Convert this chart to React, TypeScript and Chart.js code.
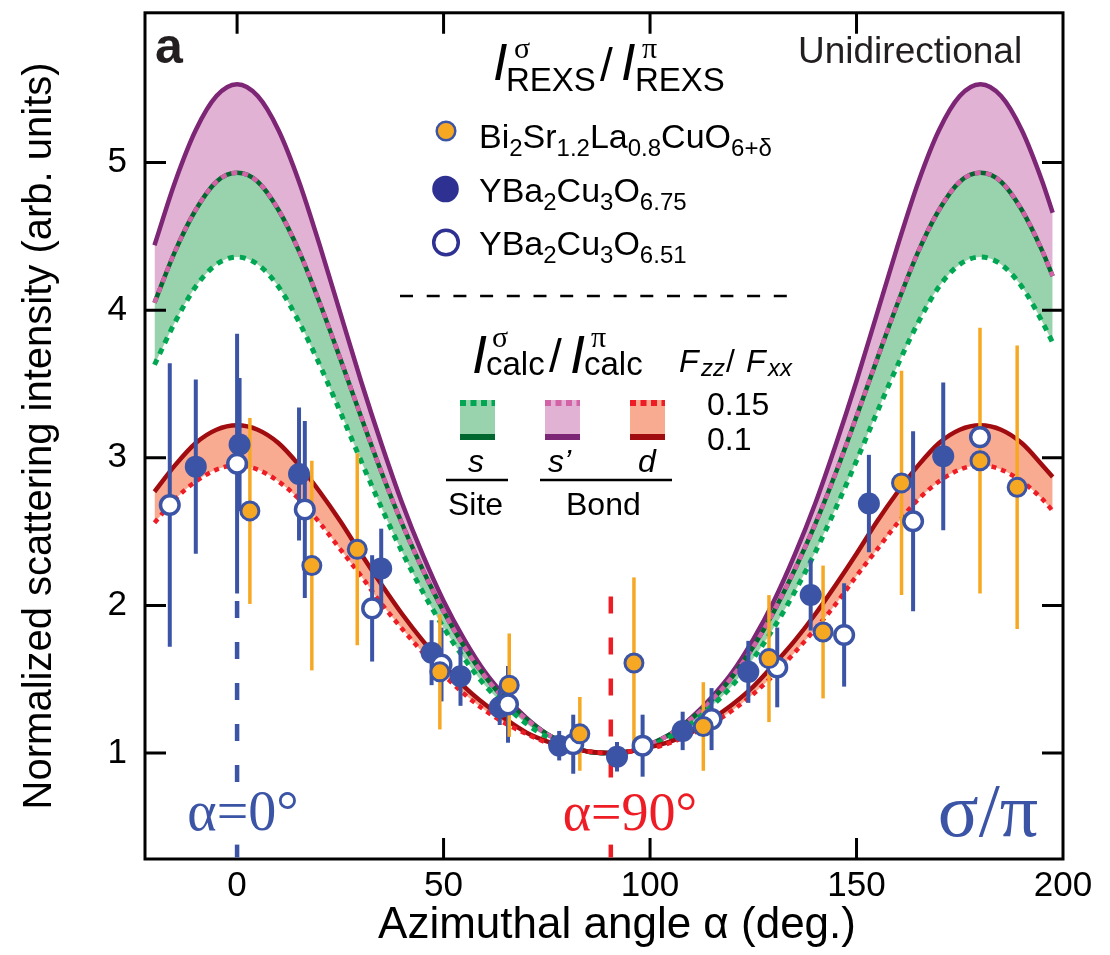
import React, { useEffect, useRef } from "react";
import { Chart, registerables } from "chart.js";

Chart.register(...registerables);

// ---------------- data ----------------
const curveAngles = [
  -20, -15, -10, -5, 0, 5, 10, 15, 20, 25, 30, 35, 40, 45, 50, 55, 60, 65, 70, 75, 80, 85, 90,
  95, 100, 105, 110, 115, 120, 125, 130, 135, 140, 145, 150, 155, 160, 165, 170, 175, 180,
  185, 190, 195, 197.5,
];
// bond s' , Fzz/Fxx = 0.1 (solid purple)
const bondSp010 = [
  4.44, 4.87, 5.22, 5.45, 5.53, 5.45, 5.22, 4.87, 4.44, 3.98, 3.52, 3.09, 2.69, 2.34, 2.03, 1.77, 1.55, 1.38, 1.24, 1.13, 1.06, 1.01, 1.0,
  1.01, 1.06, 1.13, 1.24, 1.38, 1.55, 1.77, 2.03, 2.34, 2.69, 3.09, 3.52, 3.98, 4.44, 4.87, 5.22, 5.45, 5.53,
  5.45, 5.22, 4.87, 4.66,
];
// bond s' , Fzz/Fxx = 0.15 (dotted pink)
const bondSp015 = [
  4.05, 4.4, 4.68, 4.87, 4.93, 4.87, 4.68, 4.4, 4.05, 3.67, 3.28, 2.9, 2.55, 2.24, 1.96, 1.72, 1.52, 1.36, 1.23, 1.13, 1.06, 1.01, 1.0,
  1.01, 1.06, 1.13, 1.23, 1.36, 1.52, 1.72, 1.96, 2.24, 2.55, 2.9, 3.28, 3.67, 4.05, 4.4, 4.68, 4.87, 4.93,
  4.87, 4.68, 4.4, 4.23,
];
// site s , Fzz/Fxx = 0.1 (solid dark green)
const siteS010 = [
  4.05, 4.4, 4.68, 4.87, 4.93, 4.87, 4.68, 4.4, 4.05, 3.67, 3.28, 2.9, 2.55, 2.24, 1.96, 1.72, 1.52, 1.36, 1.23, 1.13, 1.06, 1.01, 1.0,
  1.01, 1.06, 1.13, 1.23, 1.36, 1.52, 1.72, 1.96, 2.24, 2.55, 2.9, 3.28, 3.67, 4.05, 4.4, 4.68, 4.87, 4.93,
  4.87, 4.68, 4.4, 4.23,
];
// site s , Fzz/Fxx = 0.15 (dotted green)
const siteS015 = [
  3.63, 3.92, 4.16, 4.31, 4.36, 4.31, 4.16, 3.92, 3.63, 3.31, 2.98, 2.66, 2.36, 2.09, 1.85, 1.64, 1.46, 1.32, 1.2, 1.11, 1.05, 1.01, 1.0,
  1.01, 1.05, 1.11, 1.2, 1.32, 1.46, 1.64, 1.85, 2.09, 2.36, 2.66, 2.98, 3.31, 3.63, 3.92, 4.16, 4.31, 4.36,
  4.31, 4.16, 3.92, 3.78,
];
// bond d , Fzz/Fxx = 0.1 (solid dark red)
const bondD010 = [
  2.77, 2.95, 3.1, 3.19, 3.22, 3.19, 3.1, 2.95, 2.77, 2.57, 2.35, 2.14, 1.94, 1.76, 1.6, 1.45, 1.33, 1.23, 1.14, 1.08, 1.04, 1.01, 1.0,
  1.01, 1.04, 1.08, 1.14, 1.23, 1.33, 1.45, 1.6, 1.76, 1.94, 2.14, 2.35, 2.57, 2.77, 2.95, 3.1, 3.19, 3.22,
  3.19, 3.1, 2.95, 2.87,
];
// bond d , Fzz/Fxx = 0.15 (dotted red)
const bondD015 = [
  2.56, 2.72, 2.84, 2.92, 2.95, 2.92, 2.84, 2.72, 2.56, 2.38, 2.2, 2.01, 1.84, 1.68, 1.53, 1.4, 1.29, 1.2, 1.13, 1.07, 1.03, 1.01, 1.0,
  1.01, 1.03, 1.07, 1.13, 1.2, 1.29, 1.4, 1.53, 1.68, 1.84, 2.01, 2.2, 2.38, 2.56, 2.72, 2.84, 2.92, 2.95,
  2.92, 2.84, 2.72, 2.64,
];

// Bi2Sr1.2La0.8CuO6+d (orange)
const bsloAngle = [3.1, 18.1, 29.1, 49.1, 65.9, 83.0, 96.1, 112.9, 128.8, 141.9, 160.9, 179.9, 188.9];
const bsloValue = [2.64, 2.27, 2.38, 1.55, 1.46, 1.13, 1.61, 1.18, 1.64, 1.82, 2.83, 2.98, 2.8];
const bsloError = [0.63, 0.71, 0.65, 0.39, 0.35, 0.25, 0.58, 0.3, 0.43, 0.45, 0.76, 0.9, 0.96];

// YBa2Cu3O6.75 (filled blue)
const ybco675Angle = [-10.0, 0.6, 15.0, 34.9, 47.1, 54.1, 63.6, 78.0, 92.0, 107.9, 123.8, 138.9, 153.0, 171.0];
const ybco675Value = [2.94, 3.09, 2.89, 2.25, 1.68, 1.52, 1.31, 1.05, 0.975, 1.15, 1.55, 2.07, 2.69, 3.01];
const ybco675Error = [0.59, 0.45, 0.45, 0.27, 0.22, 0.2, 0.12, 0.1, 0.1, 0.13, 0.21, 0.24, 0.33, 0.5];

// YBa2Cu3O6.51 (open blue)
const ybco651Angle = [-16.3, 0.0, 16.4, 32.7, 49.5, 65.6, 81.4, 98.2, 114.9, 130.8, 147.0, 163.7, 179.9];
const ybco651Value = [2.68, 2.96, 2.65, 1.98, 1.6, 1.33, 1.06, 1.05, 1.23, 1.58, 1.8, 2.57, 3.14];
const ybco651Error = [0.96, 0.88, 0.6, 0.36, 0.25, 0.26, 0.2, 0.21, 0.21, 0.27, 0.35, 0.61, 0.0];

const xTicks = [0, 50, 100, 150, 200];
const yTicks = [1, 2, 3, 4, 5];
const markerLines = [0, 90.5];
const xTitle = "Azimuthal angle α (deg.)";
const yTitle = "Normalized scattering intensity (arb. units)";

// ---------------- styles ----------------
const SANS = '"Liberation Sans", Arial, Helvetica, sans-serif';
const SERIF = '"Liberation Serif", "Times New Roman", serif';
const BLUE = "#3b54a5";
const NAVY = "#2e3192";
const ORANGE = "#f7a823";
const PURPLE = "#7d2676";
const PINK = "#d462a6";
const PINK_FILL = "#e2b2d4";
const DKGREEN = "#00672f";
const GREEN = "#00a651";
const GREEN_FILL = "#99d3ae";
const DKRED = "#a10c11";
const RED = "#ee1c25";
const RED_FILL = "#f9ab91";
const TXT = "#231f20";

const pts = (xs: number[], ys: number[]) => xs.map((x, i) => ({ x, y: ys[i] }));

function curve(label: string, ys: number[], color: string, width: number, dash: number[], order: number, fill: any) {
  return {
    label,
    data: pts(curveAngles, ys),
    borderColor: color,
    borderWidth: width,
    borderDash: dash,
    borderCapStyle: "butt",
    pointRadius: 0,
    cubicInterpolationMode: "monotone",
    backgroundColor: "rgba(0,0,0,0)",
    fill,
    order,
  };
}

type Part = [string, number, number, string];
function drawParts(ctx: CanvasRenderingContext2D, parts: Part[], color: string) {
  ctx.fillStyle = color;
  ctx.textAlign = "left";
  ctx.textBaseline = "alphabetic";
  for (const [t, x, y, f] of parts) {
    ctx.font = f;
    ctx.fillText(t, x, y);
  }
}
function drawChem(ctx: CanvasRenderingContext2D, segs: [string, boolean][], x: number, y: number, color: string) {
  ctx.fillStyle = color;
  ctx.textAlign = "left";
  ctx.textBaseline = "alphabetic";
  let cx = x;
  for (const [t, sub] of segs) {
    ctx.font = sub ? `24px ${SANS}` : `34px ${SANS}`;
    ctx.fillText(t, cx, y + (sub ? 8 : 0));
    cx += ctx.measureText(t).width;
  }
}

const errorBarPlugin = {
  id: "errorBars",
  beforeDatasetDraw(chart: any, args: any) {
    const d0 = chart.data.datasets[args.index];
    if (!d0.firstMarkers) return;
    const { ctx, scales } = chart;
    const x = scales.x;
    const y = scales.y;
    ctx.save();
    ctx.setLineDash([]);
    ctx.lineCap = "butt";
    for (const d of chart.data.datasets) {
      if (!d.errors) continue;
      ctx.strokeStyle = d.barColor;
      ctx.lineWidth = d.barWidth;
      d.data.forEach((p: any, i: number) => {
        const e = d.errors[i];
        if (!e) return;
        const px = x.getPixelForValue(p.x);
        ctx.beginPath();
        ctx.moveTo(px, y.getPixelForValue(p.y - e));
        ctx.lineTo(px, y.getPixelForValue(p.y + e));
        ctx.stroke();
      });
    }
    ctx.restore();
  },
};

const decorPlugin = {
  id: "decor",
  beforeDatasetsDraw(chart: any) {
    const { ctx, scales } = chart;
    const x = scales.x;
    const y = scales.y;
    ctx.save();
    ctx.lineWidth = 4.5;
    ctx.lineCap = "butt";
    ctx.setLineDash([17, 24]);
    const cols = [BLUE, RED];
    const tops = [2.03, 2.06];
    markerLines.forEach((v, i) => {
      const px = x.getPixelForValue(v);
      ctx.strokeStyle = cols[i];
      ctx.beginPath();
      ctx.moveTo(px, y.getPixelForValue(tops[i]));
      ctx.lineTo(px, y.getPixelForValue(0.78));
      ctx.stroke();
    });
    ctx.restore();
  },
  afterDraw(chart: any) {
    const { ctx, chartArea: a, scales } = chart;
    const x = scales.x;
    const y = scales.y;
    ctx.save();
    ctx.setLineDash([]);
    // frame
    ctx.strokeStyle = "#000";
    ctx.lineWidth = 3;
    ctx.strokeRect(a.left, a.top, a.right - a.left, a.bottom - a.top);
    // inward ticks (all four sides)
    const TL = 21;
    ctx.beginPath();
    for (const v of yTicks) {
      const py = y.getPixelForValue(v);
      ctx.moveTo(a.left, py);
      ctx.lineTo(a.left + TL, py);
      ctx.moveTo(a.right, py);
      ctx.lineTo(a.right - TL, py);
    }
    for (const v of xTicks.slice(0, 4)) {
      const px = x.getPixelForValue(v);
      ctx.moveTo(px, a.top);
      ctx.lineTo(px, a.top + TL);
      if (v !== 0) {
        ctx.moveTo(px, a.bottom);
        ctx.lineTo(px, a.bottom - TL);
      }
    }
    ctx.stroke();
    // bottom pieces of the alpha marker lines
    ctx.lineWidth = 4.5;
    [BLUE, RED].forEach((c, i) => {
      const px = x.getPixelForValue(markerLines[i]);
      ctx.strokeStyle = c;
      ctx.beginPath();
      ctx.moveTo(px, y.getPixelForValue(0.38));
      ctx.lineTo(px, a.bottom - 1.5);
      ctx.stroke();
    });

    // x axis title
    ctx.fillStyle = "#000";
    ctx.textAlign = "center";
    ctx.textBaseline = "alphabetic";
    ctx.font = `44px ${SANS}`;
    ctx.fillText(xTitle, 617, 938);

    // panel letter & label
    drawParts(ctx, [["a", 155, 63, `bold 50px ${SANS}`]], TXT);
    drawParts(ctx, [["Unidirectional", 798, 63, `37px ${SANS}`]], TXT);

    // alpha annotations
    ctx.textAlign = "center";
    ctx.font = `56px ${SERIF}`;
    ctx.fillStyle = BLUE;
    ctx.fillText("α=0°", 243, 830);
    ctx.font = `54px ${SERIF}`;
    ctx.fillStyle = RED;
    ctx.fillText("α=90°", 630, 830);
    ctx.fillStyle = BLUE;
    ctx.font = `76px ${SERIF}`;
    ctx.fillText("σ/π", 988, 836);

    // legend title REXS
    const IF = `italic 52px ${SANS}`;
    const SUPF = `30px ${SERIF}`;
    const SUBF = `33px ${SANS}`;
    drawParts(
      ctx,
      [
        ["I", 493, 80, IF],
        ["σ", 514, 58, SUPF],
        ["REXS", 506, 91, SUBF],
        ["/", 600, 81, `46px ${SANS}`],
        ["I", 621, 80, IF],
        ["π", 642, 58, SUPF],
        ["REXS", 635, 91, SUBF],
      ],
      "#000"
    );

    // legend markers
    ctx.lineWidth = 2.5;
    ctx.fillStyle = ORANGE;
    ctx.strokeStyle = BLUE;
    ctx.beginPath();
    ctx.arc(446, 131, 9.3, 0, Math.PI * 2);
    ctx.fill();
    ctx.stroke();
    ctx.fillStyle = NAVY;
    ctx.beginPath();
    ctx.arc(445.5, 189, 13.3, 0, Math.PI * 2);
    ctx.fill();
    ctx.lineWidth = 3.5;
    ctx.fillStyle = "#fff";
    ctx.strokeStyle = NAVY;
    ctx.beginPath();
    ctx.arc(446, 242.5, 12.3, 0, Math.PI * 2);
    ctx.fill();
    ctx.stroke();

    drawChem(ctx, [["Bi", false], ["2", true], ["Sr", false], ["1.2", true], ["La", false], ["0.8", true], ["CuO", false], ["6+δ", true]], 479, 148, "#000");
    drawChem(ctx, [["YBa", false], ["2", true], ["Cu", false], ["3", true], ["O", false], ["6.75", true]], 479, 202, "#000");
    drawChem(ctx, [["YBa", false], ["2", true], ["Cu", false], ["3", true], ["O", false], ["6.51", true]], 479, 255, "#000");

    // dashed separator
    ctx.strokeStyle = "#000";
    ctx.lineWidth = 2.6;
    ctx.setLineDash([13, 13.7]);
    ctx.beginPath();
    ctx.moveTo(400, 296);
    ctx.lineTo(800, 296);
    ctx.stroke();
    ctx.setLineDash([]);

    // calc title
    const IF2 = `italic 54px ${SANS}`;
    drawParts(
      ctx,
      [
        ["I", 472, 373, IF2],
        ["σ", 492, 347, SUPF],
        ["calc", 486, 375, SUBF],
        ["/", 549, 372, `46px ${SANS}`],
        ["I", 570, 373, IF2],
        ["π", 591, 347, SUPF],
        ["calc", 584, 375, SUBF],
        ["F", 679, 372, `italic 32px ${SANS}`],
        ["zz", 701, 376, `italic 24px ${SANS}`],
        ["/", 726, 372, `32px ${SANS}`],
        ["F", 746, 372, `italic 32px ${SANS}`],
        ["xx", 768, 376, `italic 24px ${SANS}`],
      ],
      "#000"
    );

    // swatches
    const sw: [number, string, string, string][] = [
      [460, GREEN_FILL, GREEN, DKGREEN],
      [545, PINK_FILL, PINK, PURPLE],
      [630, RED_FILL, RED, DKRED],
    ];
    for (const [sx, fillC, dotC, solidC] of sw) {
      ctx.fillStyle = fillC;
      ctx.fillRect(sx, 400, 35, 40);
      ctx.fillStyle = solidC;
      ctx.fillRect(sx, 434, 35, 6);
      ctx.strokeStyle = dotC;
      ctx.lineWidth = 6;
      ctx.setLineDash([6, 4.5]);
      ctx.beginPath();
      ctx.moveTo(sx, 403);
      ctx.lineTo(sx + 35, 403);
      ctx.stroke();
      ctx.setLineDash([]);
    }
    drawParts(
      ctx,
      [
        ["s", 468, 472, `italic 32px ${SANS}`],
        ["s’", 548, 472, `italic 32px ${SANS}`],
        ["d", 638, 472, `italic 32px ${SANS}`],
        ["Site", 448, 515, `32px ${SANS}`],
        ["Bond", 566, 515, `32px ${SANS}`],
        ["0.15", 707, 415, `32px ${SANS}`],
        ["0.1", 707, 450, `32px ${SANS}`],
      ],
      "#000"
    );
    ctx.strokeStyle = "#000";
    ctx.lineWidth = 2.7;
    ctx.beginPath();
    ctx.moveTo(446, 480);
    ctx.lineTo(508, 480);
    ctx.moveTo(540, 480);
    ctx.lineTo(672, 480);
    ctx.stroke();

    ctx.restore();
  },
};

const zeroPad = (s: any) => {
  s.paddingTop = 0;
  s.paddingBottom = 0;
  s.paddingLeft = 0;
  s.paddingRight = 0;
};

export default function App() {
  const ref = useRef<HTMLCanvasElement>(null);
  useEffect(() => {
    if (!ref.current) return;
    const chart = new Chart(ref.current, {
      type: "line",
      data: {
        datasets: [
          curve("s' (0.1)", bondSp010, PURPLE, 4.5, [], 30, { target: 1, above: PINK_FILL, below: PINK_FILL }),
          curve("s' (0.15)", bondSp015, PINK, 4.5, [6, 5], 28, false),
          curve("s (0.1)", siteS010, DKGREEN, 4.5, [], 29, { target: 3, above: GREEN_FILL, below: GREEN_FILL }),
          curve("s (0.15)", siteS015, GREEN, 5, [6, 6], 27, false),
          curve("d (0.1)", bondD010, DKRED, 4.5, [], 26, { target: 5, above: RED_FILL, below: RED_FILL }),
          curve("d (0.15)", bondD015, RED, 4.5, [5, 5], 25, false),
          {
            label: "YBa2Cu3O6.75",
            data: pts(ybco675Angle, ybco675Value),
            showLine: false,
            pointRadius: 11,
            pointBorderWidth: 0,
            pointBackgroundColor: BLUE,
            pointBorderColor: BLUE,
            order: 3,
            errors: ybco675Error,
            barColor: BLUE,
            barWidth: 4,
            firstMarkers: true,
          } as any,
          {
            label: "YBa2Cu3O6.51",
            data: pts(ybco651Angle, ybco651Value),
            showLine: false,
            pointRadius: 9.3,
            pointBorderWidth: 3.5,
            pointBackgroundColor: "#fff",
            pointBorderColor: BLUE,
            order: 2,
            errors: ybco651Error,
            barColor: BLUE,
            barWidth: 4,
          } as any,
          {
            label: "Bi2Sr1.2La0.8CuO6+δ",
            data: pts(bsloAngle, bsloValue),
            showLine: false,
            pointRadius: 9,
            pointBorderWidth: 3,
            pointBackgroundColor: ORANGE,
            pointBorderColor: BLUE,
            order: 1,
            errors: bsloError,
            barColor: ORANGE,
            barWidth: 3.5,
          } as any,
        ],
      },
      options: {
        animation: false,
        responsive: false,
        devicePixelRatio: 1,
        events: [],
        layout: { padding: { left: 0, right: 47, top: 9, bottom: 6 } },
        plugins: {
          legend: { display: false },
          tooltip: { enabled: false },
        },
        scales: {
          x: {
            type: "linear",
            min: -22.3,
            max: 200,
            afterBuildTicks: (s: any) => {
              s.ticks = xTicks.map((v) => ({ value: v }));
            },
            afterFit: (s: any) => {
              s.height = 90;
              zeroPad(s);
            },
            grid: { display: false, drawTicks: false },
            border: { display: false },
            ticks: { font: { family: SANS, size: 35 }, color: "#000", padding: 6, maxRotation: 0, autoSkip: false },
            title: { display: false, text: xTitle },
          },
          y: {
            type: "linear",
            min: 0.2825,
            max: 6.014,
            afterBuildTicks: (s: any) => {
              s.ticks = yTicks.map((v) => ({ value: v }));
            },
            afterFit: (s: any) => {
              s.width = 145;
              zeroPad(s);
            },
            grid: { display: false, drawTicks: false },
            border: { display: false },
            ticks: { font: { family: SANS, size: 35 }, color: "#000", padding: 18 },
            title: {
              display: true,
              text: yTitle,
              font: { family: SANS, size: 40 },
              color: "#000",
              padding: { top: 16, bottom: 0 },
            },
          },
        },
      } as any,
      plugins: [errorBarPlugin, decorPlugin],
    } as any);
    return () => chart.destroy();
  }, []);
  return (
    <div style={{ position: "absolute", left: 0, top: 0, width: 1110, height: 955, background: "#fff" }}>
      <canvas ref={ref} width={1110} height={955} style={{ display: "block", width: 1110, height: 955 }} />
    </div>
  );
}
